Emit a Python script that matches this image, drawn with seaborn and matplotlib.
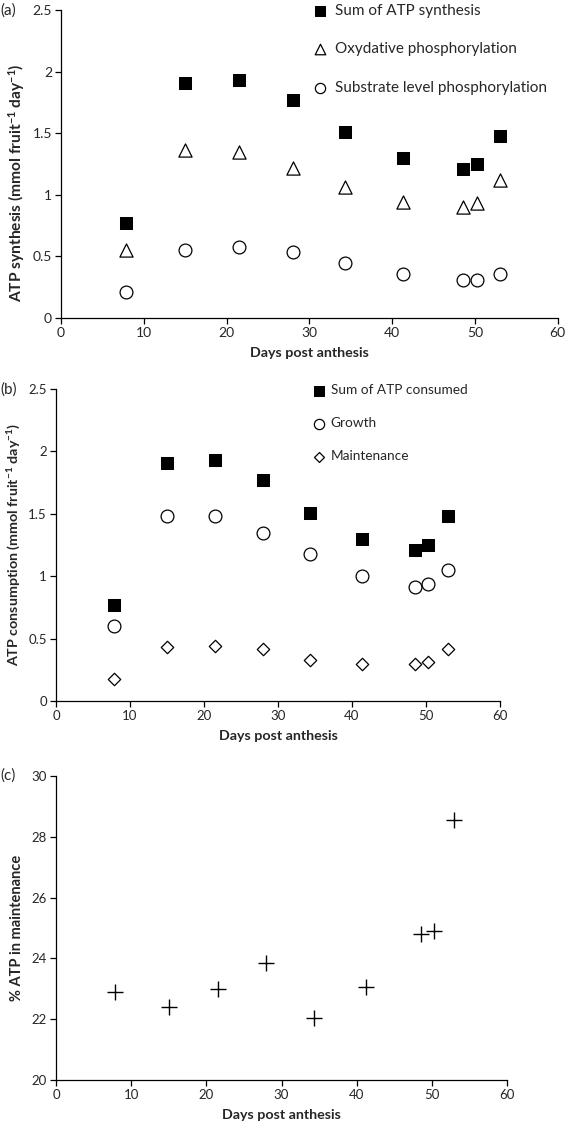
import seaborn as sns
import pandas as pd
import matplotlib.pyplot as plt

sns.set_theme(style="ticks")
plt.rcParams['font.family'] = ['Lato', 'DejaVu Sans']
plt.rcParams['mathtext.default'] = 'regular'

days = [7.8, 15.0, 21.5, 28.0, 34.3, 41.3, 48.5, 50.3, 53.0]

atp_sum = [0.77, 1.91, 1.93, 1.77, 1.51, 1.30, 1.21, 1.25, 1.48]
oxydative = [0.55, 1.36, 1.35, 1.22, 1.06, 0.94, 0.90, 0.93, 1.12]
substrate = [0.21, 0.55, 0.58, 0.54, 0.45, 0.36, 0.31, 0.31, 0.36]

growth = [0.60, 1.48, 1.48, 1.35, 1.18, 1.00, 0.91, 0.94, 1.05]
maintenance = [0.18, 0.43, 0.44, 0.42, 0.33, 0.30, 0.30, 0.31, 0.42]

pct_maint = [22.9, 22.4, 23.0, 23.85, 22.05, 23.05, 24.8, 24.9, 28.55]

df = pd.DataFrame({"days": days, "sum": atp_sum, "oxy": oxydative, "sub": substrate,
                   "growth": growth, "maint": maintenance, "pct": pct_maint})

fig = plt.figure(figsize=(5.68, 11.29), dpi=100)
ax_a = fig.add_axes([0.1074, 0.7183, 0.8746, 0.2728])
ax_b = fig.add_axes([0.0986, 0.3791, 0.7817, 0.2763])
ax_c = fig.add_axes([0.0986, 0.0434, 0.7940, 0.2693])

def style_ax(ax, ylim, yticks, yticklabels, ylabel, ylabel_size, tick_size, ylab_xy):
    ax.set_xlim(0, 60)
    ax.set_xticks(range(0, 61, 10))
    ax.set_ylim(*ylim)
    ax.set_yticks(yticks)
    ax.set_yticklabels(yticklabels)
    ax.set_xlabel("Days post anthesis", fontweight="bold", fontsize=10.3, labelpad=5.5)
    ax.set_ylabel(ylabel, fontweight="bold", fontsize=ylabel_size)
    ax.yaxis.set_label_coords(*ylab_xy)
    ax.tick_params(labelsize=tick_size, length=4, width=0.9, color="black", pad=2.5)
    for s in ["left", "bottom"]:
        ax.spines[s].set_color("black")
        ax.spines[s].set_linewidth(0.9)
    sns.despine(ax=ax)

# panel (a)
sns.scatterplot(data=df, x="days", y="sum", ax=ax_a, marker="s", s=85, color="black",
                edgecolor="black", label="Sum of ATP synthesis")
sns.scatterplot(data=df, x="days", y="oxy", ax=ax_a, marker="^", s=90, color="white",
                edgecolor="black", linewidth=0.9, label="Oxydative phosphorylation")
sns.scatterplot(data=df, x="days", y="sub", ax=ax_a, marker="o", s=85, color="white",
                edgecolor="black", linewidth=0.9, label="Substrate level phosphorylation")
style_ax(ax_a, (0, 2.5), [0, 0.5, 1, 1.5, 2, 2.5], ["0", "0.5", "1", "1.5", "2", "2.5"],
         "ATP synthesis (mmol fruit$^{-1}$ day$^{-1}$)", 11.2, 10, (-0.068, 0.44))
ax_a.legend(loc="upper left", bbox_to_anchor=(0.4935, 1.04), frameon=False, fontsize=11,
            labelspacing=1.61, handlelength=1.0, handletextpad=0.5, markerscale=0.8,
            borderaxespad=0)

# panel (b)
sns.scatterplot(data=df, x="days", y="sum", ax=ax_b, marker="s", s=85, color="black",
                edgecolor="black", label="Sum of ATP consumed")
sns.scatterplot(data=df, x="days", y="growth", ax=ax_b, marker="o", s=85, color="white",
                edgecolor="black", linewidth=0.9, label="Growth")
sns.scatterplot(data=df, x="days", y="maint", ax=ax_b, marker="D", s=40, color="white",
                edgecolor="black", linewidth=0.9, label="Maintenance")
style_ax(ax_b, (0, 2.5), [0, 0.5, 1, 1.5, 2, 2.5], ["0", "0.5", "1", "1.5", "2", "2.5"],
         "ATP consumption (mmol fruit$^{-1}$ day$^{-1}$)", 10.3, 9.5, (-0.074, 0.5))
ax_b.legend(loc="upper left", bbox_to_anchor=(0.565, 1.033), frameon=False, fontsize=9.8,
            labelspacing=1.54, handlelength=1.0, handletextpad=0.36, markerscale=0.8,
            borderaxespad=0)

# panel (c)
sns.scatterplot(data=df, x="days", y="pct", ax=ax_c, marker="+", s=120, color="black",
                linewidth=1.0)
style_ax(ax_c, (20, 30), [20, 22, 24, 26, 28, 30], ["20", "22", "24", "26", "28", "30"],
         "% ATP in maintenance", 10.5, 9.5, (-0.071, 0.5))

fig.text(0.0, 0.991, "(a)", fontsize=11, va="center", ha="left")
fig.text(0.0, 0.6554, "(b)", fontsize=11, va="center", ha="left")
fig.text(0.0, 0.3127, "(c)", fontsize=11, va="center", ha="left")

fig.savefig("out.png", dpi=100)
